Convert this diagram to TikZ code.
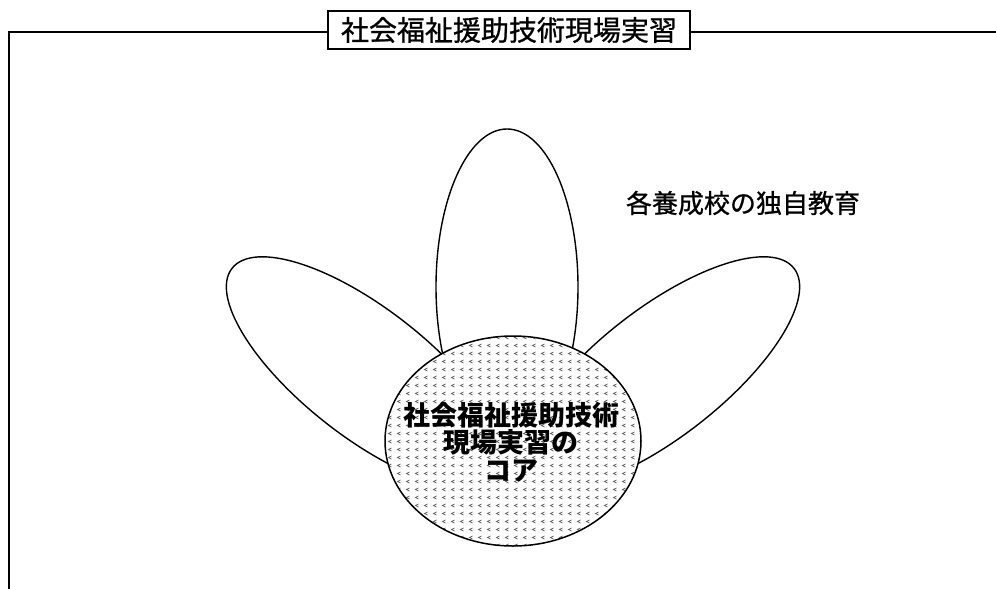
\documentclass[tikz,border=0pt]{standalone}
\usepackage{fontspec}
\newfontfamily\cjk{Noto Sans CJK JP}
\newfontfamily\cjkmed{Noto Sans CJK JP}[FakeBold=0.9]
\usetikzlibrary{shapes.geometric,patterns}
\pgfdeclarepatternformonly{chev}{\pgfpoint{-1pt}{-1pt}}{\pgfpoint{10pt}{9pt}}{\pgfpoint{9pt}{8pt}}{%
  \pgfsetlinewidth{0.7pt}%
  \pgfpathmoveto{\pgfpoint{4.5pt}{5pt}}%
  \pgfpathlineto{\pgfpoint{1.5pt}{3.5pt}}%
  \pgfpathlineto{\pgfpoint{4.5pt}{2pt}}%
  \pgfusepath{stroke}}
\tikzset{
  frameline/.style={line width=1.9pt},
  petal/.style={draw, ellipse, line width=1.4pt, inner sep=0pt, outer sep=0pt, fill=white},
  core/.style={draw, ellipse, line width=1.5pt, inner sep=0pt, outer sep=0pt,
    preaction={fill=white}, pattern=chev, pattern color=black!60},
  titlebox/.style={draw, rectangle, line width=1.6pt, inner sep=0pt, outer sep=0pt,
    minimum width=362pt, minimum height=38pt, fill=white, font=\cjkmed\fontsize{28}{30}\selectfont},
  cjklabel/.style={font=\cjkmed\fontsize{26}{28}\selectfont, inner sep=0pt},
  coretext/.style={font=\cjk\bfseries\fontsize{27}{27.5}\selectfont, align=center, inner sep=0pt}
}
\begin{document}
\begin{tikzpicture}[x=1pt,y=-1pt]
\useasboundingbox (0,0) rectangle (996,589);
% title box
\node[titlebox] (title) at (509,30) {社会福祉援助技術現場実習};
\coordinate (tl) at (9,32);
\coordinate (bl) at (9,589);
\coordinate (tr) at (996,32);
\draw[frameline] (bl) -- (tl) -- (title.west |- tl);
\draw[frameline] (title.east |- tr) -- (tr);
% petals
\node[petal, minimum width=142pt, minimum height=316pt] (ptop) at (507,287) {};
\node[petal, minimum width=340pt, minimum height=128pt, rotate=-38] (pleft) at (366,373) {};
\node[petal, minimum width=340pt, minimum height=128pt, rotate=38] (pright) at (660,373) {};
% core
\node[core, minimum width=256pt, minimum height=210pt] (core) at (513,441) {};
\node[coretext] (coretxt) at (511,442) {社会福祉援助技術\\現場実習の\\コア};
% label
\node[cjklabel] (label) at (743,203) {各養成校の独自教育};
\end{tikzpicture}
\end{document}
